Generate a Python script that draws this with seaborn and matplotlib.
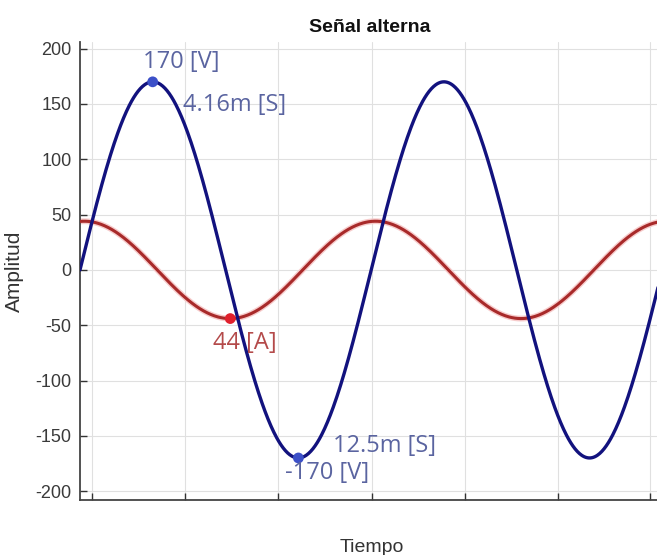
import matplotlib
matplotlib.use("Agg")
import matplotlib.pyplot as plt
import numpy as np
import pandas as pd
import seaborn as sns

# Signal parameters
voltaje_pico = 170        # [V]
corriente_pico = 44       # [A]
frecuencia = 60           # [Hz]
desfase_ms = 0.25         # small lag of the current trough
t_fin_ms = 33.2

# Annotated points (time in ms, value)
pico_v = (4.16, 170)
valle_v = (12.5, -170)
valle_i = (8.6, -44)

x_ticks = [0.69, 6.01, 11.34, 16.72, 22.05, 27.37, 32.64]
y_ticks = [-200, -150, -100, -50, 0, 50, 100, 150, 200]

t = np.linspace(0, t_fin_ms, 800)
w = 2 * np.pi * frecuencia / 1000.0
df = pd.DataFrame({
    "t": t,
    "voltaje": voltaje_pico * np.sin(w * t),
    "corriente": corriente_pico * np.cos(w * (t - desfase_ms)),
})

sns.set_theme(style="whitegrid")
plt.rcParams["font.family"] = ["Liberation Sans", "DejaVu Sans"]
plt.rcParams["axes.unicode_minus"] = False

fig = plt.figure(figsize=(6.57, 5.55), dpi=100)
ax = fig.add_axes([80 / 657, 1 - 500 / 555, 580 / 657, 458 / 555])

# red current with a faint halo like the reference
sns.lineplot(data=df, x="t", y="corriente", color="#f7cccc", lw=4.2, ax=ax, zorder=2)
sns.lineplot(data=df, x="t", y="corriente", color="#a82a2a", lw=2.2, ax=ax, zorder=3)
sns.lineplot(data=df, x="t", y="voltaje", color="#12127e", lw=2.4, ax=ax, zorder=4)

pts_v = pd.DataFrame({"t": [pico_v[0], valle_v[0]], "v": [pico_v[1], valle_v[1]]})
pts_i = pd.DataFrame({"t": [valle_i[0]], "v": [valle_i[1]]})
sns.scatterplot(data=pts_v, x="t", y="v", color="#3c50c8", s=60, edgecolor="none", ax=ax, zorder=5)
sns.scatterplot(data=pts_i, x="t", y="v", color="#e0202c", s=60, edgecolor="none", ax=ax, zorder=5)

azul = "#5a64a0"
rojo = "#b44a4a"
fa = {"family": ["Open Sans", "DejaVu Sans"], "size": 17}
ax.text(3.61, 188, "170 [V]", color=azul, ha="left", va="center", fontdict=fa, zorder=6)
ax.text(5.90, 149, "4.16m [S]", color=azul, ha="left", va="center", fontdict=fa, zorder=6)
ax.text(7.62, -66, "44 [A]", color=rojo, ha="left", va="center", fontdict=fa, zorder=6)
ax.text(11.74, -184, "-170 [V]", color=azul, ha="left", va="center", fontdict=fa, zorder=6)
ax.text(14.49, -159, "12.5m [S]", color=azul, ha="left", va="center", fontdict=fa, zorder=6)

ax.set_xlim(0, t_fin_ms)
ax.set_ylim(-208, 206)
ax.set_xticks(x_ticks)
ax.set_xticklabels([])
ax.set_yticks(y_ticks)
ax.tick_params(axis="both", direction="in", length=5, width=1, color="#333333",
               labelsize=13, labelcolor="#3a3a3a", left=True, bottom=True)
ax.tick_params(axis="y", pad=6)
ax.grid(True, color="#e0e0e0", lw=0.8)

for s in ["top", "right"]:
    ax.spines[s].set_visible(False)
for s in ["left", "bottom"]:
    ax.spines[s].set_color("#444444")
    ax.spines[s].set_linewidth(1.3)

ax.set_xlabel("Tiempo", fontsize=14, color="#333333")
ax.set_ylabel("Amplitud", fontsize=15, color="#333333")
ax.xaxis.set_label_coords(0.503, -0.085)
ax.yaxis.set_label_coords(-0.097, 0.5)
ax.set_title("Señal alterna", fontsize=14, fontweight="bold", color="#111111", y=1.004)

fig.savefig("out.png", dpi=100)
